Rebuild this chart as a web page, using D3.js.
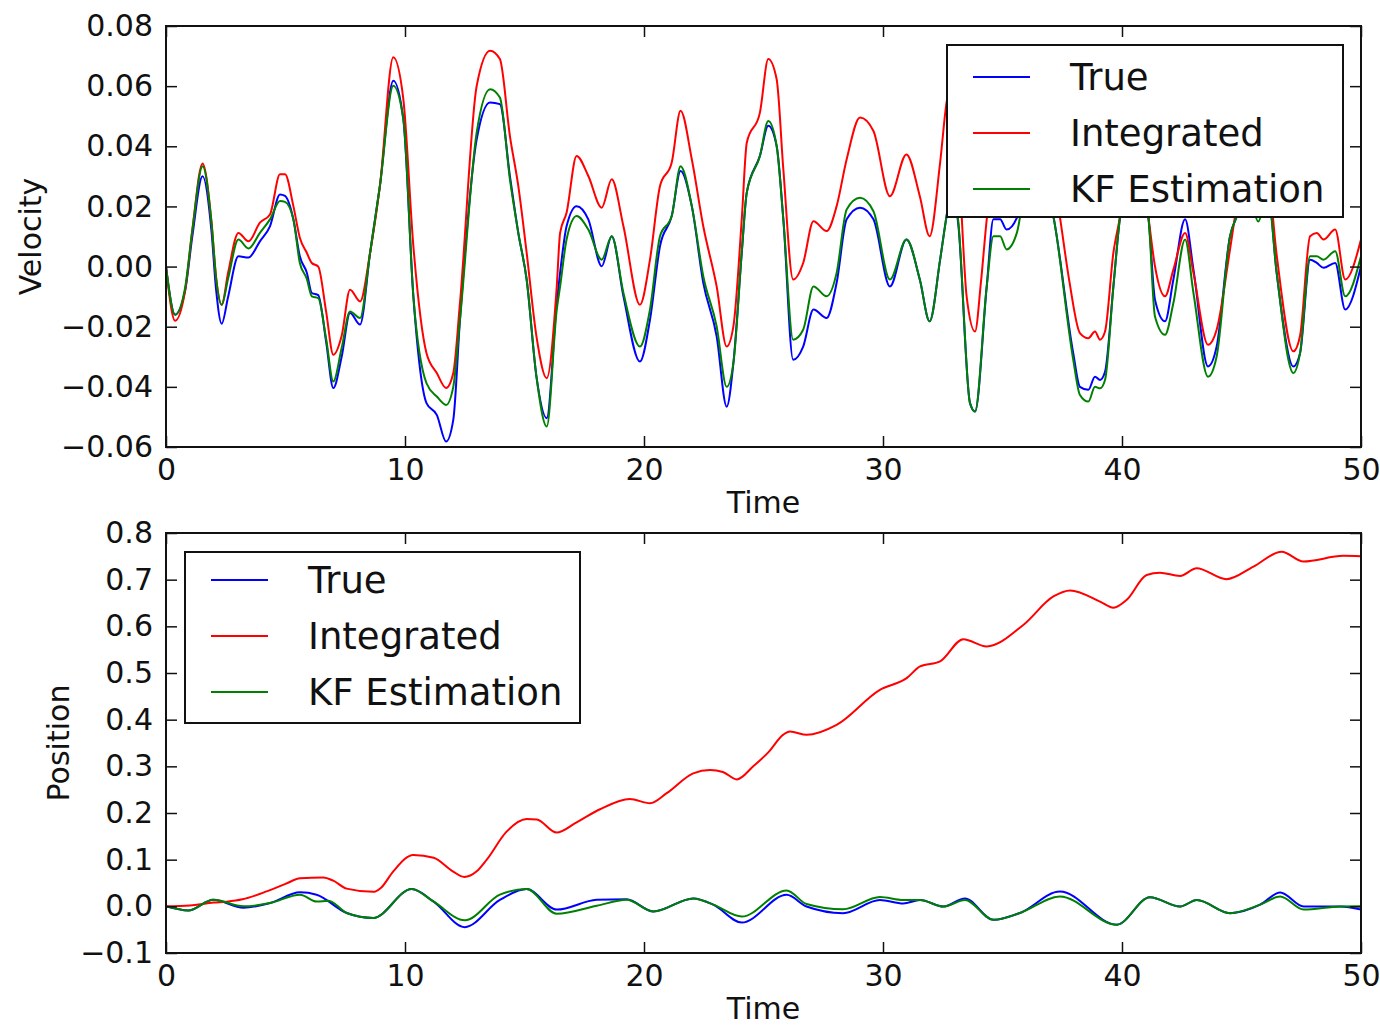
<!DOCTYPE html>
<html>
<head>
<meta charset="utf-8">
<script src="https://cdn.jsdelivr.net/npm/d3@7"></script>
<style>
  body { margin: 0; background: #fff; }
  svg { display: block; }
  text { font-family: "DejaVu Sans", sans-serif; fill: #111; }
</style>
</head>
<body>
<svg id="fig" width="1380" height="1027"></svg>
<script>
// ---- series definitions ----
const seriesNames = ["True", "Integrated", "KF Estimation"];
const seriesColors = ["#0000ff", "#ff0000", "#008000"];

// ---- axis ticks ----
const timeTicks = [0, 10, 20, 30, 40, 50];
const timeTickLabels = ["0", "10", "20", "30", "40", "50"];
const velTicks = [-0.06, -0.04, -0.02, 0.00, 0.02, 0.04, 0.06, 0.08];
const velTickLabels = ["\u22120.06", "\u22120.04", "\u22120.02", "0.00", "0.02", "0.04", "0.06", "0.08"];
const posTicks = [-0.1, 0.0, 0.1, 0.2, 0.3, 0.4, 0.5, 0.6, 0.7, 0.8];
const posTickLabels = ["\u22120.1", "0.0", "0.1", "0.2", "0.3", "0.4", "0.5", "0.6", "0.7", "0.8"];

// ---- velocity samples: [time, velocity] ----
const velTrue = [
  [0,0.000],[0.38,-0.016],[0.8,-0.008],[1.1,0.010],[1.53,0.030],[1.9,0.012],[2.1,-0.008],[2.33,-0.019],
  [2.6,-0.010],[3.03,0.0034],[3.45,0.003],[3.93,0.0084],[4.35,0.0134],[4.77,0.024],[4.98,0.0235],[5.33,0.0157],
  [5.6,0.0034],[5.89,-0.002],[6.1,-0.0088],[6.37,-0.0095],[6.7,-0.025],[7.0,-0.0404],[7.35,-0.030],[7.7,-0.0154],
  [8.12,-0.0193],[8.54,0.0046],[8.95,0.0268],[9.51,0.0618],[9.93,0.049],[10.35,-0.0099],[10.9,-0.0454],[11.33,-0.0493],
  [11.72,-0.0582],[12.02,-0.051],[12.3,-0.0177],[13.0,0.0423],[13.56,0.0546],[13.97,0.054],[14.39,0.0301],[14.74,0.0112],
  [15.09,-0.0043],[15.5,-0.0366],[15.93,-0.0504],[16.35,-0.012],[16.49,-0.002],[16.76,0.0134],[17.18,0.0201],[17.67,0.0157],
  [18.23,0.0001],[18.65,0.0101],[19.14,-0.0099],[19.83,-0.0316],[20.25,-0.0177],[20.67,0.0068],[21.16,0.0168],[21.53,0.0318],
  [22.0,0.0201],[22.48,-0.0054],[23.04,-0.0232],[23.46,-0.0466],[23.74,-0.0321],[24.09,0.0046],[24.3,0.0246],[24.85,0.0368],
  [25.2,0.0468],[25.55,0.0401],[25.83,0.0157],[26.24,-0.031],[26.66,-0.0266],[27.09,-0.0143],[27.64,-0.0171],[28.06,-0.0054],
  [28.48,0.0157],[29.04,0.0196],[29.6,0.0157],[30.29,-0.0066],[30.98,0.009],[31.54,-0.0043],[31.95,-0.0182],[32.39,0.0023],
  [32.66,0.0168],[32.9,0.026],[33.15,0.014],[33.64,-0.0454],[33.85,-0.0482],[34.34,-0.0066],[34.62,0.0157],[34.9,0.0157],
  [35.17,0.0123],[35.6,0.0162],[36.0,0.028],[36.5,0.034],[37.13,0.0166],[37.96,-0.0288],[38.24,-0.040],[38.59,-0.041],
  [38.87,-0.0366],[39.08,-0.0377],[39.29,-0.035],[39.64,-0.0066],[39.92,0.0166],[40.5,0.034],[41.1,0.0166],[41.38,-0.011],
  [41.8,-0.0182],[42.15,-0.0043],[42.64,0.0157],[42.99,-0.001],[43.6,-0.0332],[43.96,-0.0266],[44.52,0.0101],[44.8,0.0166],
  [45.3,0.025],[45.7,0.018],[46.1,0.025],[46.47,-0.002],[47.17,-0.0332],[47.45,-0.0288],[47.87,0.0023],[48.15,0.0012],
  [48.43,-0.0004],[48.92,0.0012],[49.34,-0.0143],[50.0,0.0001]
];
const velIntegrated = [
  [0,0.000],[0.38,-0.018],[0.8,-0.008],[1.1,0.012],[1.53,0.0343],[1.9,0.015],[2.1,-0.004],[2.33,-0.0127],
  [2.6,-0.002],[3.03,0.0112],[3.45,0.0084],[3.93,0.0146],[4.35,0.0173],[4.77,0.0307],[4.98,0.0307],[5.33,0.0201],
  [5.6,0.0096],[5.89,0.0046],[6.1,0.0012],[6.37,0.000],[6.7,-0.015],[7.0,-0.0293],[7.35,-0.023],[7.7,-0.0077],
  [8.12,-0.0116],[8.54,0.0046],[8.95,0.0268],[9.51,0.0696],[9.93,0.0557],[10.35,0.0068],[10.9,-0.0288],[11.33,-0.0354],
  [11.72,-0.0404],[12.02,-0.0354],[12.3,-0.0121],[13.0,0.0601],[13.56,0.0718],[13.97,0.069],[14.39,0.0434],[14.74,0.0268],
  [15.09,0.0046],[15.5,-0.0232],[15.93,-0.0371],[16.35,-0.0066],[16.49,0.0112],[16.76,0.0179],[17.18,0.0368],[17.67,0.0301],
  [18.23,0.0196],[18.65,0.029],[19.14,0.0134],[19.83,-0.0127],[20.25,0.0023],[20.67,0.0268],[21.16,0.0346],[21.53,0.0518],
  [22.0,0.0357],[22.48,0.0134],[23.04,-0.0066],[23.46,-0.0266],[23.74,-0.0199],[24.09,0.0157],[24.3,0.0412],[24.85,0.0512],
  [25.2,0.069],[25.55,0.0623],[25.83,0.0323],[26.24,-0.0043],[26.66,0.0012],[27.09,0.0151],[27.64,0.0118],[28.06,0.0201],
  [28.48,0.0357],[29.04,0.0496],[29.6,0.0451],[30.29,0.0234],[30.98,0.0373],[31.54,0.0234],[31.95,0.0101],[32.39,0.0346],
  [32.66,0.0546],[32.9,0.062],[33.2,0.030],[33.5,-0.010],[33.85,-0.0216],[34.1,-0.005],[34.34,0.0157],[34.8,0.040],
  [35.5,0.055],[36.5,0.060],[37.4,0.0166],[37.8,-0.005],[38.24,-0.0221],[38.59,-0.0238],[38.87,-0.0216],[39.08,-0.0243],
  [39.29,-0.0216],[39.64,0.0046],[39.92,0.0166],[40.5,0.045],[41.1,0.0166],[41.38,0.0001],[41.8,-0.0099],[42.15,-0.001],
  [42.64,0.0112],[42.99,-0.0021],[43.6,-0.026],[43.96,-0.021],[44.52,0.0057],[44.8,0.020],[45.5,0.035],[46.1,0.030],
  [46.47,0.004],[47.17,-0.0282],[47.45,-0.023],[47.87,0.0101],[48.15,0.0112],[48.43,0.009],[48.92,0.0123],[49.34,-0.0043],
  [50.0,0.009]
];
const velKF = [
  [0,0.000],[0.38,-0.016],[0.8,-0.007],[1.1,0.012],[1.53,0.0334],[1.9,0.015],[2.1,-0.004],[2.33,-0.0127],
  [2.6,-0.004],[3.03,0.009],[3.45,0.006],[3.93,0.0112],[4.35,0.0157],[4.77,0.0218],[4.98,0.0215],[5.33,0.0157],
  [5.6,0.0012],[5.89,-0.004],[6.1,-0.0099],[6.37,-0.0105],[6.7,-0.024],[7.0,-0.0382],[7.35,-0.0271],[7.7,-0.0149],
  [8.12,-0.0171],[8.54,0.0046],[8.95,0.0268],[9.51,0.0601],[9.93,0.049],[10.35,-0.0099],[10.9,-0.0388],[11.33,-0.0432],
  [11.72,-0.046],[12.02,-0.040],[12.3,-0.0177],[13.0,0.0446],[13.56,0.059],[13.97,0.0562],[14.39,0.029],[14.74,0.0112],
  [15.09,-0.0043],[15.5,-0.0366],[15.93,-0.0532],[16.35,-0.0143],[16.49,-0.0066],[16.76,0.009],[17.18,0.0168],[17.67,0.0123],
  [18.23,0.0023],[18.65,0.0101],[19.14,-0.0088],[19.83,-0.0266],[20.25,-0.0143],[20.67,0.0101],[21.16,0.0168],[21.53,0.0334],
  [22.0,0.0201],[22.48,-0.0032],[23.04,-0.0199],[23.46,-0.040],[23.74,-0.0321],[24.09,0.0046],[24.3,0.0246],[24.85,0.0368],
  [25.2,0.0484],[25.55,0.0401],[25.83,0.0157],[26.24,-0.0243],[26.66,-0.021],[27.09,-0.0066],[27.64,-0.0099],[28.06,-0.0021],
  [28.48,0.019],[29.04,0.0229],[29.6,0.0184],[30.29,-0.0043],[30.98,0.009],[31.54,-0.0043],[31.95,-0.0182],[32.39,0.0023],
  [32.66,0.0168],[32.9,0.028],[33.15,0.015],[33.64,-0.0454],[33.85,-0.0482],[34.34,-0.0066],[34.62,0.0101],[34.9,0.0101],
  [35.17,0.0057],[35.6,0.0112],[36.0,0.028],[36.5,0.033],[37.13,0.0166],[37.96,-0.031],[38.24,-0.0427],[38.59,-0.0449],
  [38.87,-0.040],[39.08,-0.0405],[39.29,-0.0377],[39.64,-0.0066],[39.92,0.0166],[40.5,0.034],[41.1,0.0166],[41.38,-0.0166],
  [41.8,-0.0227],[42.15,-0.0121],[42.64,0.009],[42.99,-0.0088],[43.6,-0.0366],[43.96,-0.0299],[44.52,0.0101],[44.8,0.0166],
  [45.3,0.024],[45.7,0.015],[46.1,0.024],[46.47,-0.002],[47.17,-0.0354],[47.45,-0.0288],[47.87,0.0034],[48.15,0.0034],
  [48.43,0.0023],[48.92,0.0051],[49.34,-0.0099],[50.0,0.0034]
];

// ---- position samples: [time, position] ----
const posTrue = [
  [0,0.000],[0.93,-0.009],[1.98,0.014],[3.24,-0.003],[4.35,0.007],[5.61,0.030],[6.3,0.025],[7.56,-0.0143],
  [8.67,-0.025],[10.28,0.037],[11.2,0.010],[12.5,-0.0446],[13.97,0.0136],[15.09,0.037],[16.35,-0.007],[18.02,0.014],
  [19.27,0.0154],[20.39,-0.011],[22.06,0.017],[22.9,0.0036],[24.09,-0.0348],[25.97,0.0246],[26.8,-0.0004],[28.33,-0.0146],
  [29.87,0.0136],[30.85,0.006],[31.55,0.0136],[32.53,-0.0004],[33.43,0.017],[34.62,-0.029],[35.73,-0.0143],[37.4,0.0318],
  [39.78,-0.0393],[41.17,0.0196],[42.43,-0.0004],[43.13,0.0136],[44.52,-0.0146],[45.78,0.0036],[46.62,0.0296],[47.6,-0.0004],
  [49.13,-0.0004],[50.0,-0.007]
];
const posIntegrated = [
  [0,0.000],[1.0,0.002],[2.0,0.008],[2.54,0.010],[3.2,0.015],[4.21,0.032],[5.0,0.048],[5.61,0.060],
  [6.58,0.062],[7.0,0.055],[7.56,0.038],[8.67,0.031],[9.0,0.040],[9.51,0.075],[10.35,0.110],[11.2,0.104],
  [12.0,0.075],[12.48,0.063],[13.0,0.075],[13.42,0.100],[14.25,0.160],[15.09,0.187],[15.51,0.186],[16.34,0.158],
  [17.18,0.180],[18.16,0.208],[19.41,0.230],[20.25,0.221],[20.95,0.2425],[22.06,0.285],[22.76,0.292],[23.3,0.288],
  [23.88,0.272],[24.57,0.300],[25.2,0.330],[25.83,0.368],[26.11,0.3746],[26.81,0.3675],[28.06,0.389],[29.87,0.464],
  [30.99,0.489],[31.55,0.514],[32.39,0.525],[33.36,0.5725],[34.34,0.557],[35.87,0.603],[37.13,0.664],[37.83,0.677],
  [39.08,0.653],[39.64,0.640],[40.2,0.657],[41.03,0.710],[41.59,0.715],[42.43,0.708],[43.12,0.7246],[44.37,0.701],
  [45.5,0.728],[46.68,0.760],[47.59,0.739],[49.26,0.751],[50.0,0.750]
];
const posKF = [
  [0,0.000],[0.93,-0.009],[1.98,0.014],[3.24,0.000],[4.35,0.007],[5.61,0.025],[6.3,0.0102],[6.8,0.012],
  [7.56,-0.0143],[8.67,-0.025],[10.28,0.037],[11.2,0.010],[12.5,-0.030],[13.97,0.025],[15.09,0.037],[16.35,-0.016],
  [18.02,0.0011],[19.27,0.014],[20.39,-0.011],[22.06,0.017],[22.9,0.0036],[24.09,-0.022],[25.97,0.034],[26.8,0.005],
  [28.33,-0.0063],[29.87,0.020],[30.85,0.0136],[31.55,0.0136],[32.53,-0.0004],[33.43,0.0136],[34.62,-0.029],[35.73,-0.0143],
  [37.4,0.021],[39.78,-0.0393],[41.17,0.0196],[42.43,-0.0004],[43.13,0.0136],[44.52,-0.0146],[45.78,0.0036],[46.62,0.021],
  [47.6,-0.007],[49.13,-0.0004],[50.0,0.000]
];

const svg = d3.select("#fig");
svg.append("rect").attr("width", 1380).attr("height", 1027).attr("fill", "#fff");

const TICK_FONT = 30;
const LEGEND_FONT = 37;

function drawPanel(cfg) {
  const g = svg.append("g");
  const x = d3.scaleLinear().domain([0, 50]).range([cfg.left, cfg.right]);
  const y = d3.scaleLinear().domain(cfg.yDomain).range([cfg.bottom, cfg.top]);

  const clipId = "clip-" + cfg.id;
  svg.append("defs").append("clipPath").attr("id", clipId)
    .append("rect")
    .attr("x", cfg.left).attr("y", cfg.top)
    .attr("width", cfg.right - cfg.left).attr("height", cfg.bottom - cfg.top);

  const line = d3.line()
    .x(d => x(d[0]))
    .y(d => y(d[1]))
    .curve(d3.curveMonotoneX);

  const lines = g.append("g").attr("clip-path", `url(#${clipId})`);
  cfg.series.forEach((s, i) => {
    lines.append("path")
      .datum(s)
      .attr("fill", "none")
      .attr("stroke", seriesColors[i])
      .attr("stroke-width", 2)
      .attr("stroke-linejoin", "round")
      .attr("d", line);
  });

  // inward ticks on every side
  const styleAxis = sel => {
    sel.select(".domain").remove();
    sel.selectAll(".tick line").attr("stroke", "#111").attr("stroke-width", 1.5);
    sel.selectAll(".tick text")
      .attr("font-family", "'DejaVu Sans', sans-serif")
      .attr("font-size", TICK_FONT)
      .attr("fill", "#111");
  };

  g.append("g")
    .attr("transform", `translate(0,${cfg.bottom})`)
    .call(d3.axisBottom(x).tickValues(timeTicks)
      .tickFormat((d, i) => timeTickLabels[i]).tickSize(-11).tickPadding(12))
    .call(styleAxis);
  g.append("g")
    .attr("transform", `translate(0,${cfg.top})`)
    .call(d3.axisTop(x).tickValues(timeTicks).tickFormat("").tickSize(-11))
    .call(styleAxis);
  g.append("g")
    .attr("transform", `translate(${cfg.left},0)`)
    .call(d3.axisLeft(y).tickValues(cfg.yTicks)
      .tickFormat((d, i) => cfg.yTickLabels[i]).tickSize(-11).tickPadding(13))
    .call(styleAxis);
  g.append("g")
    .attr("transform", `translate(${cfg.right},0)`)
    .call(d3.axisRight(y).tickValues(cfg.yTicks).tickFormat("").tickSize(-11))
    .call(styleAxis);

  // frame
  g.append("rect")
    .attr("x", cfg.left).attr("y", cfg.top)
    .attr("width", cfg.right - cfg.left).attr("height", cfg.bottom - cfg.top)
    .attr("fill", "none").attr("stroke", "#111").attr("stroke-width", 2);

  // axis titles
  g.append("text")
    .attr("x", (cfg.left + cfg.right) / 2).attr("y", cfg.bottom + 66)
    .attr("text-anchor", "middle").attr("font-size", TICK_FONT)
    .text("Time");
  g.append("text")
    .attr("transform", `translate(${cfg.yLabelX},${(cfg.top + cfg.bottom) / 2}) rotate(-90)`)
    .attr("text-anchor", "middle").attr("dy", "0.36em").attr("font-size", TICK_FONT)
    .text(cfg.yLabel);

  // legend
  const L = cfg.legend;
  const lg = g.append("g");
  lg.append("rect")
    .attr("x", L.x).attr("y", L.y).attr("width", L.w).attr("height", L.h)
    .attr("fill", "#fff").attr("stroke", "#111").attr("stroke-width", 2);
  seriesNames.forEach((name, i) => {
    const cy = L.y + L.firstRow + i * L.rowGap;
    lg.append("line")
      .attr("x1", L.x + 26).attr("x2", L.x + 83)
      .attr("y1", cy).attr("y2", cy)
      .attr("stroke", seriesColors[i]).attr("stroke-width", 2);
    lg.append("text")
      .attr("x", L.x + 123).attr("y", cy + 13)
      .attr("font-size", LEGEND_FONT)
      .text(name);
  });
}

drawPanel({
  id: "vel",
  left: 166, right: 1361, top: 26, bottom: 447,
  yDomain: [-0.06, 0.08], yTicks: velTicks, yTickLabels: velTickLabels,
  yLabel: "Velocity", yLabelX: 30,
  series: [velTrue, velIntegrated, velKF],
  legend: { x: 947, y: 45, w: 396, h: 172, firstRow: 32, rowGap: 56 }
});

drawPanel({
  id: "pos",
  left: 166, right: 1361, top: 533, bottom: 953,
  yDomain: [-0.1, 0.8], yTicks: posTicks, yTickLabels: posTickLabels,
  yLabel: "Position", yLabelX: 58,
  series: [posTrue, posIntegrated, posKF],
  legend: { x: 185, y: 552, w: 395, h: 171, firstRow: 28, rowGap: 56 }
});
</script>
</body>
</html>
